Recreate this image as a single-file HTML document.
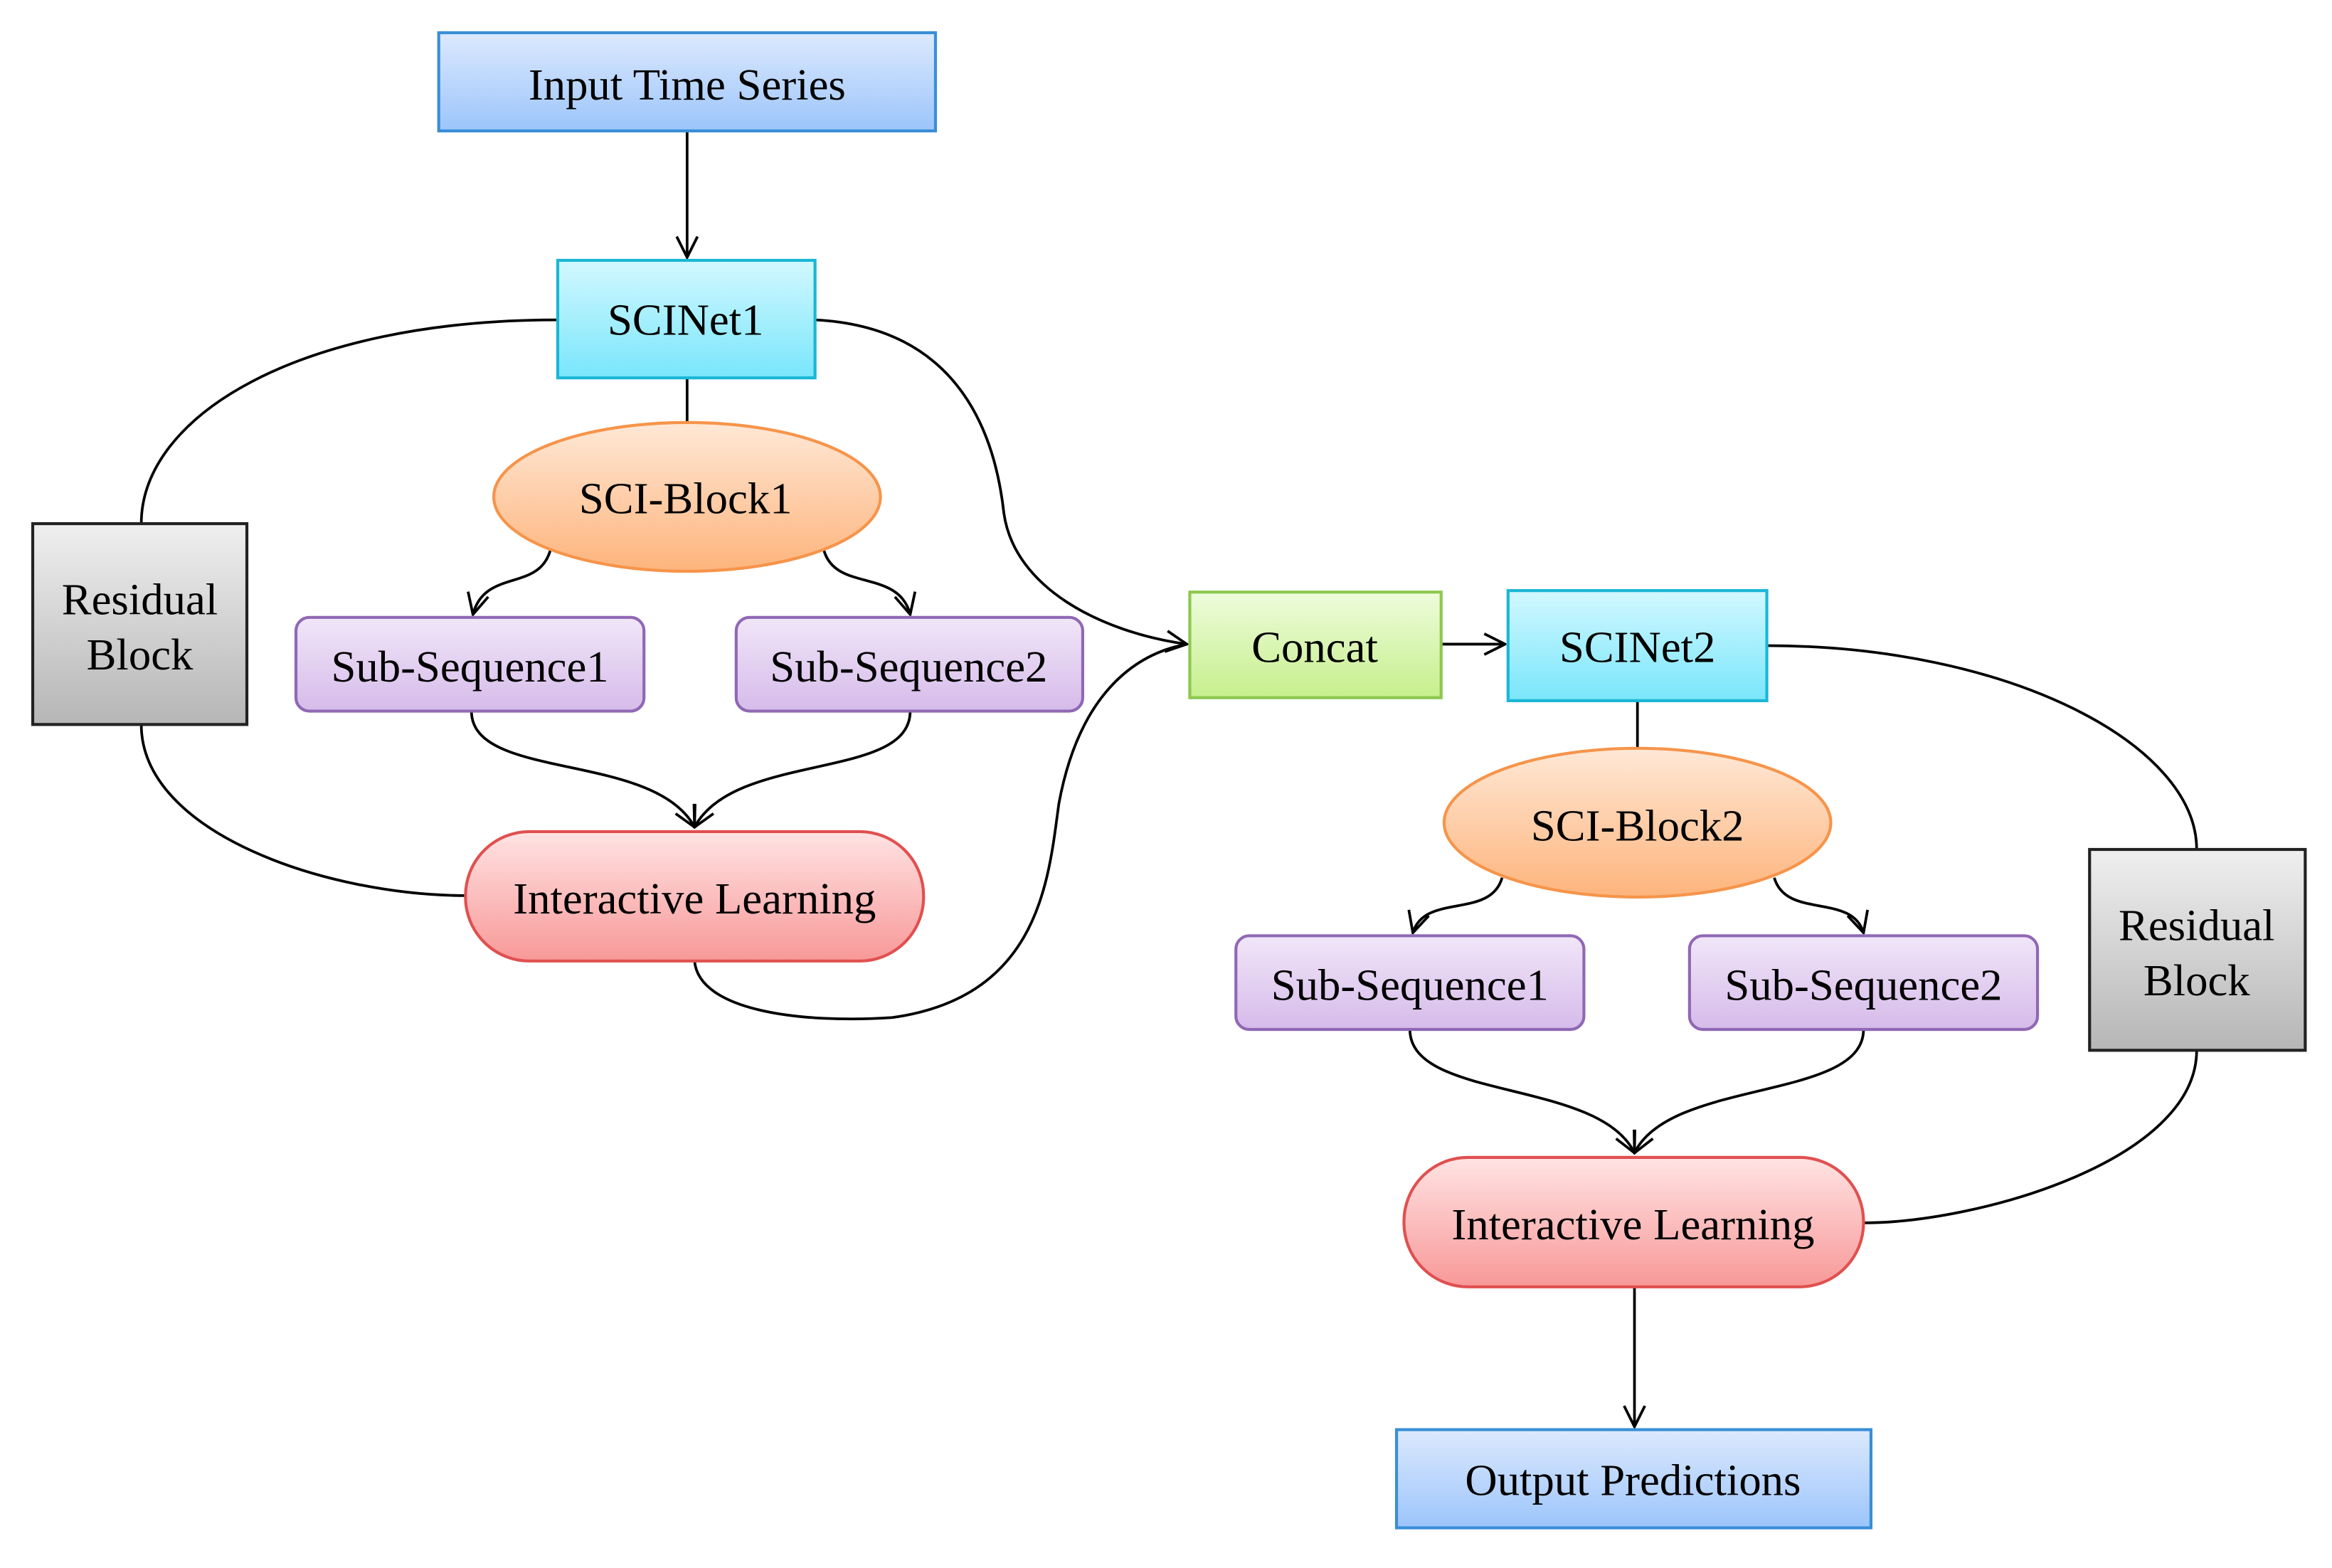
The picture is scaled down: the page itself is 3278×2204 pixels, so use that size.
<!DOCTYPE html>
<html><head><meta charset="utf-8"><style>
html,body{margin:0;padding:0;background:#fff;}
svg{display:block;}
text{font-family:"Liberation Serif",serif;font-size:30px;fill:#000;text-anchor:middle;dominant-baseline:central;}
</style></head><body>
<svg width="3278" height="2204" viewBox="0 0 1568 1054" preserveAspectRatio="none" xmlns="http://www.w3.org/2000/svg">
<defs>
<linearGradient id="gb" x1="0" y1="0" x2="0" y2="1"><stop offset="0" stop-color="#dce9fd"/><stop offset="1" stop-color="#9cc5fb"/></linearGradient>
<linearGradient id="gc" x1="0" y1="0" x2="0" y2="1"><stop offset="0" stop-color="#d2f8ff"/><stop offset="1" stop-color="#79e6fb"/></linearGradient>
<linearGradient id="go" x1="0" y1="0" x2="0" y2="1"><stop offset="0" stop-color="#ffe8d6"/><stop offset="1" stop-color="#fdb47c"/></linearGradient>
<linearGradient id="gp" x1="0" y1="0" x2="0" y2="1"><stop offset="0" stop-color="#f1e6f8"/><stop offset="1" stop-color="#d6bbea"/></linearGradient>
<linearGradient id="gr" x1="0" y1="0" x2="0" y2="1"><stop offset="0" stop-color="#ffe3e3"/><stop offset="1" stop-color="#f89898"/></linearGradient>
<linearGradient id="gg" x1="0" y1="0" x2="0" y2="1"><stop offset="0" stop-color="#eefcdc"/><stop offset="1" stop-color="#c6ef8c"/></linearGradient>
<linearGradient id="gy" x1="0" y1="0" x2="0" y2="1"><stop offset="0" stop-color="#efefef"/><stop offset="1" stop-color="#b6b6b6"/></linearGradient>
<marker id="ar" viewBox="0 0 16 16" refX="15" refY="8" markerWidth="16" markerHeight="16" markerUnits="userSpaceOnUse" orient="auto"><path d="M1,1 L15,8 L1,15" fill="none" stroke="#000" stroke-width="1.8"/></marker>
</defs>
<g fill="none" stroke="#000" stroke-width="1.8">
<path d="M462,88 L462,173" marker-end="url(#ar)"/>
<path d="M462,254 L462,285"/>
<path d="M375,215 C200,215 95,280 95,352"/>
<path d="M95,487 C95,560 220,602 313,602"/>
<path d="M548,215 C650,220 670,300 675,345 C682,395 740,425 798,433" marker-end="url(#ar)"/>
<path d="M467,646 C470,680 540,688 600,684 C700,670 705,590 712,540 C725,470 760,440 798,433"/>
<path d="M370,370 C362,398 326,382 318,413" marker-end="url(#ar)"/>
<path d="M554,370 C562,398 604,382 612,413" marker-end="url(#ar)"/>
<path d="M317,478 C317,525 440,505 467,556" marker-end="url(#ar)"/>
<path d="M612,478 C612,525 494,505 467,556" marker-end="url(#ar)"/>
<path d="M969,433 L1012,433" marker-end="url(#ar)"/>
<path d="M1101,471 L1101,503"/>
<path d="M1188,434 C1350,434 1477,500 1477,571"/>
<path d="M1477,706 C1477,780 1330,822 1253,822"/>
<path d="M1010,590 C1002,618 958,600 950,627" marker-end="url(#ar)"/>
<path d="M1193,590 C1201,618 1245,600 1253,627" marker-end="url(#ar)"/>
<path d="M948,692 C948,740 1075,725 1099,775" marker-end="url(#ar)"/>
<path d="M1253,692 C1253,740 1123,725 1099,775" marker-end="url(#ar)"/>
<path d="M1099,865 L1099,959" marker-end="url(#ar)"/>
</g>
<g stroke-width="2">
<rect x="295" y="22" width="334" height="66" fill="url(#gb)" stroke="#3a8ed6"/>
<rect x="375" y="175" width="173" height="79" fill="url(#gc)" stroke="#1ab6d6"/>
<ellipse cx="462" cy="334" rx="130" ry="50" fill="url(#go)" stroke="#f6944a"/>
<rect x="22" y="352" width="144" height="135" fill="url(#gy)" stroke="#222"/>
<rect x="199" y="415" width="234" height="63" rx="9" fill="url(#gp)" stroke="#9068b4"/>
<rect x="495" y="415" width="233" height="63" rx="9" fill="url(#gp)" stroke="#9068b4"/>
<rect x="313" y="559" width="308" height="87" rx="43" fill="url(#gr)" stroke="#e0504f"/>
<rect x="800" y="398" width="169" height="71" fill="url(#gg)" stroke="#8cc84e"/>
<rect x="1014" y="397" width="174" height="74" fill="url(#gc)" stroke="#1ab6d6"/>
<ellipse cx="1101" cy="553" rx="130" ry="50" fill="url(#go)" stroke="#f6944a"/>
<rect x="1405" y="571" width="145" height="135" fill="url(#gy)" stroke="#222"/>
<rect x="831" y="629" width="234" height="63" rx="9" fill="url(#gp)" stroke="#9068b4"/>
<rect x="1136" y="629" width="234" height="63" rx="9" fill="url(#gp)" stroke="#9068b4"/>
<rect x="944" y="778" width="309" height="87" rx="43" fill="url(#gr)" stroke="#e0504f"/>
<rect x="939" y="961" width="319" height="66" fill="url(#gb)" stroke="#3a8ed6"/>
</g>
<text x="462" y="57">Input Time Series</text>
<text x="461" y="215">SCINet1</text>
<text x="461" y="335">SCI-Block1</text>
<text x="94" y="403">Residual</text>
<text x="94" y="440">Block</text>
<text x="316" y="448">Sub-Sequence1</text>
<text x="611" y="448">Sub-Sequence2</text>
<text x="467" y="604">Interactive  Learning</text>
<text x="884" y="435">Concat</text>
<text x="1101" y="435">SCINet2</text>
<text x="1101" y="555">SCI-Block2</text>
<text x="1477" y="622">Residual</text>
<text x="1477" y="659">Block</text>
<text x="948" y="662">Sub-Sequence1</text>
<text x="1253" y="662">Sub-Sequence2</text>
<text x="1098" y="823">Interactive  Learning</text>
<text x="1098" y="995">Output Predictions</text>
</svg>
</body></html>
